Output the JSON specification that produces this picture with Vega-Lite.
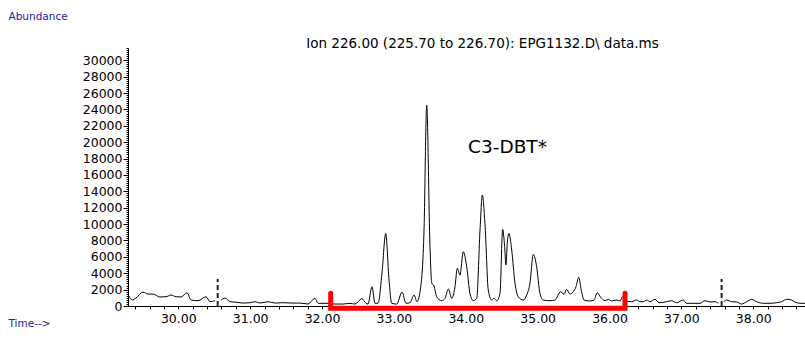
{
  "$schema": "https://vega.github.io/schema/vega-lite/v6.json",
  "width": 677,
  "height": 258,
  "autosize": {"type": "none"},
  "padding": {"left": 128, "top": 48, "right": 0, "bottom": 32},
  "background": "white",
  "config": {"view": {"stroke": null}, "font": "DejaVu Sans"},
  "title": {
    "text": "Ion 226.00 (225.70 to 226.70): EPG1132.D\\ data.ms",
    "fontSize": 13.5,
    "font": "DejaVu Sans",
    "fontWeight": "normal",
    "color": "black",
    "anchor": "middle",
    "dx": 16,
    "dy": 39,
    "offset": 0
  },
  "encoding": {
    "x": {
      "field": "t",
      "type": "quantitative",
      "scale": {"domain": [29.3, 38.72], "nice": false, "zero": false},
      "axis": {
        "values": [29.4,29.6,29.8,30,30.2,30.4,30.6,30.8,31,31.2,31.4,31.6,31.8,32,32.2,32.4,32.6,32.8,33,33.2,33.4,33.6,33.8,34,34.2,34.4,34.6,34.8,35,35.2,35.4,35.6,35.8,36,36.2,36.4,36.6,36.8,37,37.2,37.4,37.6,37.8,38,38.2,38.4,38.6],
        "labelExpr": "abs(datum.value - round(datum.value)) < 0.001 ? format(datum.value, '.2f') : ''",
        "grid": false,
        "domainColor": "black",
        "tickColor": "black",
        "tickSize": 3,
        "labelPadding": 3,
        "labelFontSize": 12.5,
        "labelFont": "DejaVu Sans",
        "labelColor": "black",
        "labelFlush": false,
        "labelOverlap": false,
        "title": "Time-->",
        "titleColor": "#1c1c9c",
        "titleFont": "DejaVu Sans",
        "titleFontSize": 10.5,
        "titleFontWeight": "normal",
        "titleAnchor": "start",
        "titleAlign": "left",
        "titleBaseline": "middle",
        "titleX": -120,
        "titleY": 17
      }
    },
    "y": {
      "field": "a",
      "type": "quantitative",
      "scale": {"domain": [0, 31500], "nice": false},
      "axis": {
        "values": [0,250,500,750,1000,1250,1500,1750,2000,2250,2500,2750,3000,3250,3500,3750,4000,4250,4500,4750,5000,5250,5500,5750,6000,6250,6500,6750,7000,7250,7500,7750,8000,8250,8500,8750,9000,9250,9500,9750,10000,10250,10500,10750,11000,11250,11500,11750,12000,12250,12500,12750,13000,13250,13500,13750,14000,14250,14500,14750,15000,15250,15500,15750,16000,16250,16500,16750,17000,17250,17500,17750,18000,18250,18500,18750,19000,19250,19500,19750,20000,20250,20500,20750,21000,21250,21500,21750,22000,22250,22500,22750,23000,23250,23500,23750,24000,24250,24500,24750,25000,25250,25500,25750,26000,26250,26500,26750,27000,27250,27500,27750,28000,28250,28500,28750,29000,29250,29500,29750,30000,30250,30500,30750,31000,31250,31500],
        "labelExpr": "datum.value % 2000 == 0 ? format(datum.value, 'd') : ''",
        "grid": false,
        "domainColor": "black",
        "tickColor": "black",
        "tickSize": {"condition": {"test": "datum.value % 2000 == 0", "value": 5}, "value": 2},
        "labelPadding": 1,
        "labelFontSize": 12.5,
        "labelFont": "DejaVu Sans",
        "labelColor": "black",
        "labelOverlap": false,
        "labelFlush": false,
        "title": "Abundance",
        "titleColor": "#1c1c9c",
        "titleFont": "DejaVu Sans",
        "titleFontSize": 10.5,
        "titleFontWeight": "normal",
        "titleAngle": 0,
        "titleAnchor": "start",
        "titleAlign": "left",
        "titleBaseline": "middle",
        "titleX": -120,
        "titleY": -32
      }
    }
  },
  "layer": [
    {
      "data": {"values": [
        {"seg":1,"t":29.31,"a":1250},{"seg":1,"t":29.36,"a":730},{"seg":1,"t":29.411,"a":975},{"seg":1,"t":29.509,"a":1700},{"seg":1,"t":29.578,"a":1460},{"seg":1,"t":29.648,"a":1460},{"seg":1,"t":29.745,"a":1100},{"seg":1,"t":29.829,"a":1130},{"seg":1,"t":29.898,"a":1340},{"seg":1,"t":29.968,"a":1130},{"seg":1,"t":30.038,"a":1100},{"seg":1,"t":30.121,"a":1620},{"seg":1,"t":30.177,"a":730},{"seg":1,"t":30.274,"a":650},{"seg":1,"t":30.386,"a":1130},{"seg":1,"t":30.441,"a":525},{"seg":1,"t":30.511,"a":650},
        {"seg":2,"t":30.594,"a":700},{"seg":2,"t":30.65,"a":975},{"seg":2,"t":30.719,"a":525},{"seg":2,"t":30.817,"a":450},{"seg":2,"t":30.9,"a":360},{"seg":2,"t":30.997,"a":400},{"seg":2,"t":31.067,"a":525},{"seg":2,"t":31.136,"a":360},{"seg":2,"t":31.248,"a":525},{"seg":2,"t":31.345,"a":360},{"seg":2,"t":31.456,"a":400},{"seg":2,"t":31.582,"a":360},{"seg":2,"t":31.693,"a":360},{"seg":2,"t":31.805,"a":240},{"seg":2,"t":31.902,"a":940},{"seg":2,"t":31.944,"a":330},{"seg":2,"t":32.069,"a":330},{"seg":2,"t":32.18,"a":240},{"seg":2,"t":32.291,"a":240},{"seg":2,"t":32.389,"a":330},{"seg":2,"t":32.458,"a":240},{"seg":2,"t":32.556,"a":900},{"seg":2,"t":32.611,"a":330},{"seg":2,"t":32.639,"a":240},{"seg":2,"t":32.695,"a":2350},{"seg":2,"t":32.737,"a":330},{"seg":2,"t":32.779,"a":330},{"seg":2,"t":32.834,"a":4000},{"seg":2,"t":32.886,"a":8860},{"seg":2,"t":32.932,"a":3170},{"seg":2,"t":32.969,"a":330},{"seg":2,"t":33.039,"a":240},{"seg":2,"t":33.113,"a":1700},{"seg":2,"t":33.168,"a":330},{"seg":2,"t":33.224,"a":400},{"seg":2,"t":33.28,"a":1340},{"seg":2,"t":33.321,"a":525},{"seg":2,"t":33.373,"a":2350},{"seg":2,"t":33.419,"a":9270},{"seg":2,"t":33.456,"a":24500},{"seg":2,"t":33.502,"a":7230},{"seg":2,"t":33.526,"a":2800},{"seg":2,"t":33.558,"a":2440},{"seg":2,"t":33.595,"a":1130},{"seg":2,"t":33.665,"a":650},{"seg":2,"t":33.711,"a":940},{"seg":2,"t":33.757,"a":2070},{"seg":2,"t":33.804,"a":940},{"seg":2,"t":33.85,"a":2350},{"seg":2,"t":33.882,"a":4600},{"seg":2,"t":33.919,"a":3780},{"seg":2,"t":33.965,"a":6620},{"seg":2,"t":34.013,"a":4800},{"seg":2,"t":34.058,"a":1550},{"seg":2,"t":34.104,"a":650},{"seg":2,"t":34.152,"a":940},{"seg":2,"t":34.198,"a":9270},{"seg":2,"t":34.23,"a":13540},{"seg":2,"t":34.267,"a":10080},{"seg":2,"t":34.313,"a":1950},{"seg":2,"t":34.36,"a":730},{"seg":2,"t":34.392,"a":940},{"seg":2,"t":34.43,"a":650},{"seg":2,"t":34.476,"a":1550},{"seg":2,"t":34.513,"a":9350},{"seg":2,"t":34.541,"a":7230},{"seg":2,"t":34.559,"a":5000},{"seg":2,"t":34.577,"a":7640},{"seg":2,"t":34.601,"a":8860},{"seg":2,"t":34.639,"a":6830},{"seg":2,"t":34.685,"a":2770},{"seg":2,"t":34.73,"a":1130},{"seg":2,"t":34.8,"a":730},{"seg":2,"t":34.847,"a":1340},{"seg":2,"t":34.893,"a":2770},{"seg":2,"t":34.939,"a":6300},{"seg":2,"t":34.986,"a":4800},{"seg":2,"t":35.032,"a":1550},{"seg":2,"t":35.078,"a":730},{"seg":2,"t":35.171,"a":650},{"seg":2,"t":35.241,"a":730},{"seg":2,"t":35.32,"a":1750},{"seg":2,"t":35.366,"a":1420},{"seg":2,"t":35.404,"a":2030},{"seg":2,"t":35.45,"a":1460},{"seg":2,"t":35.496,"a":1750},{"seg":2,"t":35.534,"a":2350},{"seg":2,"t":35.571,"a":3500},{"seg":2,"t":35.607,"a":1950},{"seg":2,"t":35.645,"a":730},{"seg":2,"t":35.728,"a":610},{"seg":2,"t":35.784,"a":730},{"seg":2,"t":35.83,"a":1620},{"seg":2,"t":35.877,"a":1060},{"seg":2,"t":35.937,"a":650},{"seg":2,"t":35.983,"a":820},{"seg":2,"t":36.03,"a":610},{"seg":2,"t":36.1,"a":730},{"seg":2,"t":36.146,"a":610},{"seg":2,"t":36.183,"a":1130},{"seg":2,"t":36.229,"a":610},{"seg":2,"t":36.308,"a":525},{"seg":2,"t":36.378,"a":730},{"seg":2,"t":36.423,"a":525},{"seg":2,"t":36.47,"a":525},{"seg":2,"t":36.517,"a":730},{"seg":2,"t":36.563,"a":525},{"seg":2,"t":36.633,"a":820},{"seg":2,"t":36.69,"a":400},{"seg":2,"t":36.795,"a":525},{"seg":2,"t":36.864,"a":650},{"seg":2,"t":36.934,"a":400},{"seg":2,"t":37.026,"a":730},{"seg":2,"t":37.073,"a":330},{"seg":2,"t":37.165,"a":330},{"seg":2,"t":37.259,"a":330},{"seg":2,"t":37.328,"a":650},{"seg":2,"t":37.398,"a":490},{"seg":2,"t":37.468,"a":525},{"seg":2,"t":37.513,"a":330},
        {"seg":3,"t":37.592,"a":525},{"seg":3,"t":37.63,"a":730},{"seg":3,"t":37.7,"a":525},{"seg":3,"t":37.769,"a":490},{"seg":3,"t":37.839,"a":240},{"seg":3,"t":37.908,"a":525},{"seg":3,"t":37.978,"a":820},{"seg":3,"t":38.047,"a":525},{"seg":3,"t":38.139,"a":330},{"seg":3,"t":38.232,"a":330},{"seg":3,"t":38.325,"a":400},{"seg":3,"t":38.395,"a":525},{"seg":3,"t":38.465,"a":820},{"seg":3,"t":38.534,"a":730},{"seg":3,"t":38.58,"a":490},{"seg":3,"t":38.65,"a":330},{"seg":3,"t":38.72,"a":330}
      ]},
      "mark": {"type": "line", "color": "black", "strokeWidth": 1, "interpolate": "monotone"},
      "encoding": {"detail": {"field": "seg", "type": "nominal"}}
    },
    {
      "data": {"values": [{"t": 30.548, "a": 0, "a2": 3300}, {"t": 37.56, "a": 0, "a2": 3300}]},
      "mark": {"type": "rule", "color": "#222222", "strokeWidth": 2, "strokeDash": [5, 3]},
      "encoding": {"y2": {"field": "a2"}}
    },
    {
      "data": {"values": [
        {"o": 0, "t": 32.12, "a": 1550},
        {"o": 1, "t": 32.12, "a": -280},
        {"o": 2, "t": 36.215, "a": -280},
        {"o": 3, "t": 36.215, "a": 1550}
      ]},
      "mark": {"type": "line", "color": "#ff0000", "strokeWidth": 5, "strokeCap": "round", "strokeJoin": "miter", "clip": false},
      "encoding": {"order": {"field": "o", "type": "quantitative"}}
    },
    {
      "data": {"values": [{"t": 34.58, "a": 19400, "label": "C3-DBT*"}]},
      "mark": {"type": "text", "fontSize": 18.5, "font": "DejaVu Sans", "color": "black", "align": "center", "baseline": "middle"},
      "encoding": {"text": {"field": "label"}}
    }
  ]
}
